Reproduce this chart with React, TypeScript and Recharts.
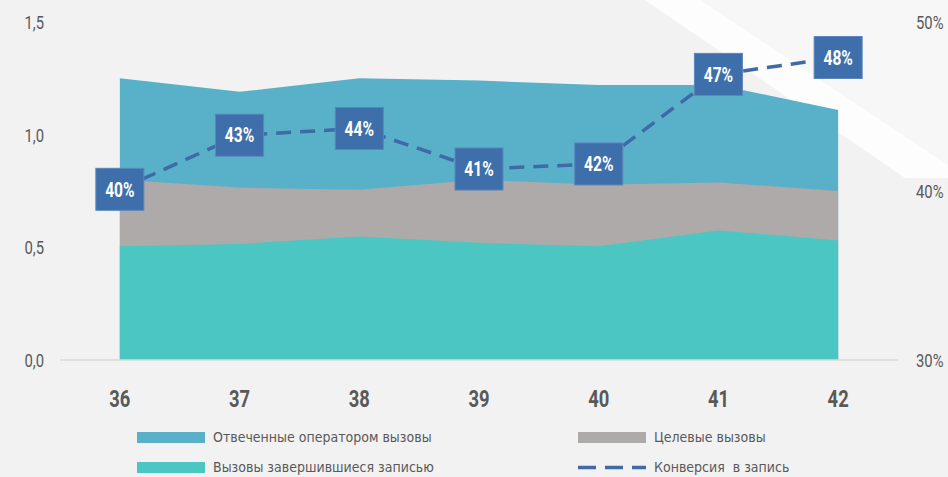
import {
  Area,
  ComposedChart,
  Line,
  XAxis,
  YAxis,
} from "recharts";

const weeks = ["36", "37", "38", "39", "40", "41", "42"];
const answeredCalls = [1.25, 1.19, 1.25, 1.24, 1.22, 1.22, 1.11];
const targetCalls = [0.8, 0.765, 0.755, 0.8, 0.778, 0.788, 0.75];
const recordedCalls = [0.505, 0.515, 0.548, 0.52, 0.505, 0.575, 0.53];
const conversion = [0.401, 0.433, 0.437, 0.413, 0.416, 0.469, 0.479];

const leftTicks = [0, 0.5, 1, 1.5];
const rightTicks = [0.3, 0.4, 0.5];

const legendItems = [
  { label: "Отвеченные оператором вызовы", color: "#58b0c9", kind: "area" },
  { label: "Целевые вызовы", color: "#aeaaa9", kind: "area" },
  { label: "Вызовы завершившиеся записью", color: "#4bc6c3", kind: "area" },
  { label: "Конверсия  в запись", color: "#3f6aa5", kind: "line" },
];

const FONT = '"DejaVu Sans Condensed", "Roboto", sans-serif';
const TICK_FONT = '"Roboto", "Liberation Sans", sans-serif';

const data = weeks.map((week, i) => ({
  week,
  answered: answeredCalls[i],
  target: targetCalls[i],
  recorded: recordedCalls[i],
  conversion: conversion[i],
}));

// narrow text: squeeze horizontally around the anchor point
function NarrowText({ x, y, anchor, size, weight, fill, children, squeeze = 0.78 }: any) {
  return (
    <text
      transform={`translate(${x},${y}) scale(${squeeze},1)`}
      x={0}
      y={0}
      dy="0.36em"
      textAnchor={anchor}
      fill={fill}
      fontFamily={TICK_FONT}
      fontWeight={weight}
      fontSize={size}
    >
      {children}
    </text>
  );
}

function ConversionLabel(props: any) {
  const { x, y, value } = props;
  if (x == null || y == null) return null;
  return (
    <g>
      <rect x={x - 24} y={y - 21} width={48} height={42} fill="#3e6fab" stroke="#5a86bb" strokeWidth={1} />
      <NarrowText x={x} y={y} anchor="middle" size={20} weight="bold" fill="#ffffff">
        {`${Math.round(value * 100)}%`}
      </NarrowText>
    </g>
  );
}

function WeekTick(props: any) {
  const { x, y, payload } = props;
  return (
    <NarrowText x={x} y={y + 31} anchor="middle" size={23} weight="bold" fill="#595959" squeeze={0.8}>
      {payload.value}
    </NarrowText>
  );
}

function LeftTick(props: any) {
  const { x, y, payload } = props;
  return (
    <NarrowText x={x} y={y} anchor="end" size={19} weight="normal" fill="#595959">
      {payload.value.toFixed(1).replace(".", ",")}
    </NarrowText>
  );
}

function RightTick(props: any) {
  const { x, y, payload } = props;
  return (
    <NarrowText x={x} y={y} anchor="start" size={19} weight="normal" fill="#595959">
      {`${Math.round(payload.value * 100)}%`}
    </NarrowText>
  );
}

function Legend() {
  return (
    <div
      style={{
        position: "absolute",
        left: 137,
        top: 428,
        width: 760,
        display: "grid",
        gridTemplateColumns: "441px 300px",
        rowGap: 12,
        fontFamily: FONT,
        fontSize: 14,
        color: "#595959",
      }}
    >
      {legendItems.map((item) => (
        <div key={item.label} style={{ display: "flex", alignItems: "center", height: 18 }}>
          {item.kind === "area" ? (
            <div style={{ width: 68, height: 11, background: item.color, marginRight: 8 }} />
          ) : (
            <svg width={68} height={11} style={{ marginRight: 8 }}>
              <line x1={0} y1={5.5} x2={68} y2={5.5} stroke={item.color} strokeWidth={3.5} strokeDasharray="18 9" />
            </svg>
          )}
          <span style={{ whiteSpace: "pre" }}>{item.label}</span>
        </div>
      ))}
    </div>
  );
}

// faint light streak in the top-right corner of the slide background
function BackgroundStreak() {
  return (
    <svg width={948} height={477} style={{ position: "absolute", left: 0, top: 0 }}>
      <polygon points="700,0 948,0 948,165" fill="#f7f7f7" />
      <polygon points="645,0 700,0 948,165 948,178 905,178" fill="#ffffff" opacity={0.85} />
    </svg>
  );
}

export default function App() {
  return (
    <div style={{ position: "absolute", left: 0, top: 0, width: 948, height: 477, background: "#f2f2f2", overflow: "hidden" }}>
      <BackgroundStreak />
      <div style={{ position: "absolute", left: 0, top: 0 }}>
        <ComposedChart
          width={948}
          height={477}
          data={data}
          margin={{ top: 22, right: 10, bottom: 87, left: 8 }}
        >
          <XAxis
            dataKey="week"
            scale="band"
            tickLine={false}
            axisLine={{ stroke: "#d9d9d9", strokeWidth: 1.5 }}
            tick={<WeekTick />}
            height={30}
          />
          <YAxis
            yAxisId="left"
            width={52}
            domain={[0, 1.5]}
            ticks={leftTicks}
            axisLine={false}
            tickLine={false}
            tickMargin={10}
            tick={<LeftTick />}
          />
          <YAxis
            yAxisId="right"
            orientation="right"
            width={40}
            domain={[0.3, 0.5]}
            ticks={rightTicks}
            axisLine={false}
            tickLine={false}
            tickMargin={12}
            tick={<RightTick />}
          />
          <Area
            yAxisId="left"
            type="linear"
            dataKey="answered"
            fill="#58b0c9"
            fillOpacity={1}
            stroke="none"
            isAnimationActive={false}
          />
          <Area
            yAxisId="left"
            type="linear"
            dataKey="target"
            fill="#aeaaa9"
            fillOpacity={1}
            stroke="none"
            isAnimationActive={false}
          />
          <Area
            yAxisId="left"
            type="linear"
            dataKey="recorded"
            fill="#4bc6c3"
            fillOpacity={1}
            stroke="none"
            isAnimationActive={false}
          />
          <Line
            yAxisId="right"
            type="linear"
            dataKey="conversion"
            stroke="#3f6aa5"
            strokeWidth={3.5}
            strokeDasharray="15 9"
            dot={false}
            activeDot={false}
            label={<ConversionLabel />}
            isAnimationActive={false}
          />
        </ComposedChart>
      </div>
      <Legend />
    </div>
  );
}
